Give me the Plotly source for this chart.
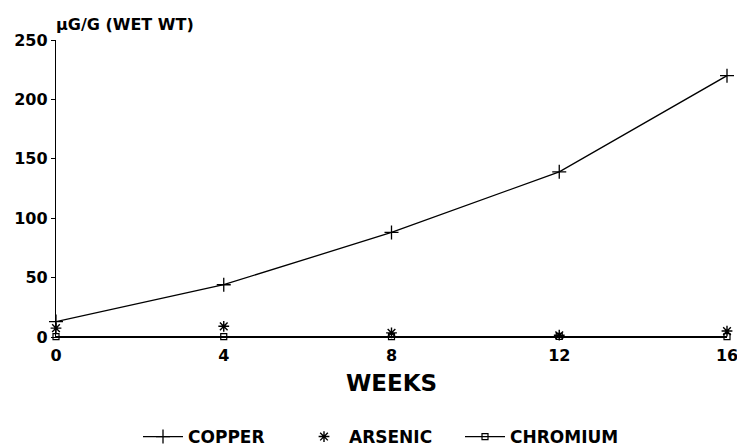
import plotly.graph_objects as go

weeks = [0, 4, 8, 12, 16]
copper = [13, 44, 88, 139, 220]
arsenic = [7.5, 9, 3.5, 1.5, 5]
chromium = [0.3, 0.3, 0.3, 0.5, 0.3]

y_ticks = [0, 50, 100, 150, 200, 250]
x_ticks = [0, 4, 8, 12, 16]

font_family = "DejaVu Sans, Arial, sans-serif"

fig = go.Figure()
fig.add_trace(go.Scatter(
    x=weeks, y=copper, name="COPPER", mode="lines+markers",
    line=dict(color="black", width=1.3),
    marker=dict(symbol="cross-thin-open", size=10, color="black",
                line=dict(color="black", width=1.3)),
    cliponaxis=False,
))
fig.add_trace(go.Scatter(
    x=weeks, y=arsenic, name="ARSENIC", mode="markers",
    marker=dict(symbol="asterisk-open", size=9, color="black",
                line=dict(color="black", width=1.4)),
    cliponaxis=False,
))
fig.add_trace(go.Scatter(
    x=weeks, y=chromium, name="CHROMIUM", mode="lines+markers",
    line=dict(color="black", width=1.3),
    marker=dict(symbol="square-open", size=6, color="black",
                line=dict(color="black", width=1.2)),
    cliponaxis=False,
))

fig.update_layout(
    width=737, height=448,
    margin=dict(l=56, r=10, t=40, b=111, autoexpand=False),
    paper_bgcolor="white", plot_bgcolor="white",
    font=dict(family=font_family, color="black"),
    showlegend=True,
    legend=dict(
        orientation="h", xref="container", yref="container",
        x=138 / 737, xanchor="left", y=1 - 437 / 448, yanchor="middle",
        font=dict(size=17, family=font_family, weight="bold"), itemwidth=40,
        entrywidth=106, entrywidthmode="pixels",
    ),
    xaxis=dict(
        range=[0, 16], tickvals=x_ticks, ticktext=[str(v) for v in x_ticks],
        showline=True, linecolor="black", linewidth=1.3,
        showgrid=False, zeroline=False, ticks="", ticklabelstandoff=4,
        ticklabeloverflow="allow",
        tickfont=dict(size=16, family=font_family, weight="bold"),
        automargin=False,
    ),
    yaxis=dict(
        range=[0, 250], tickvals=y_ticks,
        showline=True, linecolor="black", linewidth=1.3,
        showgrid=False, zeroline=False, ticks="outside", ticklen=4, tickcolor="black",
        tickfont=dict(size=16, family=font_family, weight="bold"),
        automargin=False,
    ),
    annotations=[
        dict(
            text="µG/G (WET WT)", xref="paper", yref="paper", x=(125 - 56) / 671, y=1,
            xanchor="center", yanchor="bottom", yshift=4, showarrow=False,
            font=dict(size=16, family=font_family, weight="bold"),
        ),
        dict(
            text="WEEKS", xref="paper", yref="paper", x=0.5, y=0,
            xanchor="center", yanchor="middle", yshift=-46, showarrow=False,
            font=dict(size=23, family=font_family, weight="bold"),
        ),
    ],
)

fig.write_html("out.html")
